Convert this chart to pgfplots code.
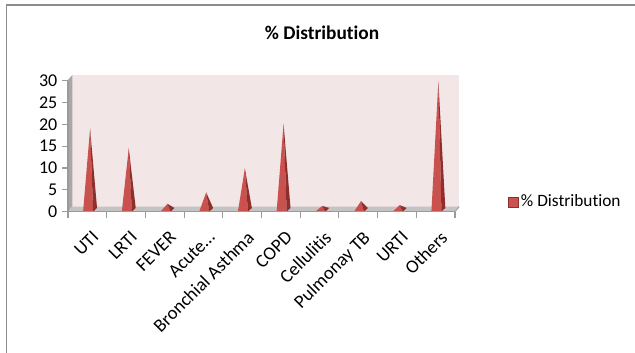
\documentclass[border=0pt]{standalone}
\usepackage{fontspec}
\setmainfont{Carlito}[RawFeature={-liga}]
\usepackage{pgfplots}
\pgfplotsset{compat=1.18}
\definecolor{pinkwall}{HTML}{F3E6E6}
\definecolor{pyrlight}{HTML}{C9514E}
\definecolor{pyrdark}{HTML}{8E2F2C}
\definecolor{floorgray}{HTML}{C4C4C4}
\definecolor{wallgray}{HTML}{A8A8A8}
\definecolor{framegray}{HTML}{8C8C8C}
\definecolor{axisgray}{HTML}{9A9A9A}
\begin{document}
\begin{tikzpicture}[x=0.75pt,y=0.75pt]
\path[use as bounding box] (0,0) rectangle (635,353);
\draw[framegray, line width=1.1pt] (6.5,0) -- (6.5,348) -- (635,348);
\node[font=\fontsize{14.5}{16}\selectfont\bfseries] at (322,320) {\% Distribution};
\begin{axis}[
  at={(51pt,106pt)}, anchor=south west,
  scale only axis, width=290.25pt, height=98.25pt,
  xmin=-0.5, xmax=9.5, ymin=0, ymax=30,
  clip=false, axis on top,
  axis x line*=bottom, axis y line*=left,
  axis line style={-, draw=axisgray, line width=0.9pt},
  ytick={0,5,...,30},
  xtick={0,...,9},
  xticklabels={UTI,LRTI,FEVER,{Acute\ldots},Bronchial Asthma,COPD,Cellulitis,Pulmonay TB,URTI,Others},
  minor xtick={-0.5,0.5,...,9.5},
  major x tick style={draw=none},
  tick align=outside,
  tick style={draw=axisgray, line width=0.8pt},
  major tick length=4.5pt, minor tick length=4.5pt,
  /pgf/number format/assume math mode=true,
  yticklabel style={font=\fontsize{13.5}{15}\selectfont},
  xticklabel style={font=\fontsize{14}{15}\selectfont, rotate=45, anchor=north east, xshift=-1pt, yshift=-5pt},
  legend style={at={(1.125,0.074)}, anchor=west, draw=none, fill=none, font=\fontsize{13}{15}\selectfont},
  legend cell align=left,
]
% back wall, left wall, floor
\fill[pinkwall] (axis cs:-0.39,1.15) rectangle (axis cs:9.61,31.3);
\fill[wallgray] (axis cs:-0.5,0) -- (axis cs:-0.39,1.15) -- (axis cs:-0.39,31.3) -- (axis cs:-0.5,30.2) -- cycle;
\fill[floorgray] (axis cs:-0.5,0) -- (axis cs:9.5,0) -- (axis cs:9.61,1.15) -- (axis cs:-0.39,1.15) -- cycle;
\draw[axisgray, line width=0.6pt] (axis cs:9.5,0) -- (axis cs:9.61,1.15);
\addplot[draw=none, fill=pyrlight, area legend,
  legend image code/.code={\draw[pyrdark, fill=pyrlight, line width=0.5pt] (0pt,-3.8pt) rectangle (7.5pt,3.8pt);}]
coordinates {
(-0.11,0) (0.07,19.0) (0.15,0)
(0.89,0) (1.07,14.5) (1.15,0)
(1.89,0) (2.07,1.8) (2.15,0)
(2.89,0) (3.07,4.4) (3.15,0)
(3.89,0) (4.07,9.9) (4.15,0)
(4.89,0) (5.07,20.1) (5.15,0)
(5.89,0) (6.07,1.3) (6.15,0)
(6.89,0) (7.07,2.4) (7.15,0)
(7.89,0) (8.07,1.5) (8.15,0)
(8.89,0) (9.07,29.8) (9.15,0)
};
\addlegendentry{\% Distribution}
\addplot[draw=none, fill=pyrdark, forget plot]
coordinates {
(0.15,0) (0.07,19.0) (0.25,0.85) (0.15,0)
(1.15,0) (1.07,14.5) (1.25,0.85) (1.15,0)
(2.15,0) (2.07,1.8) (2.25,0.85) (2.15,0)
(3.15,0) (3.07,4.4) (3.25,0.85) (3.15,0)
(4.15,0) (4.07,9.9) (4.25,0.85) (4.15,0)
(5.15,0) (5.07,20.1) (5.25,0.85) (5.15,0)
(6.15,0) (6.07,1.3) (6.25,0.85) (6.15,0)
(7.15,0) (7.07,2.4) (7.25,0.85) (7.15,0)
(8.15,0) (8.07,1.5) (8.25,0.85) (8.15,0)
(9.15,0) (9.07,29.8) (9.25,0.85) (9.15,0)
};
\end{axis}
\end{tikzpicture}
\end{document}
